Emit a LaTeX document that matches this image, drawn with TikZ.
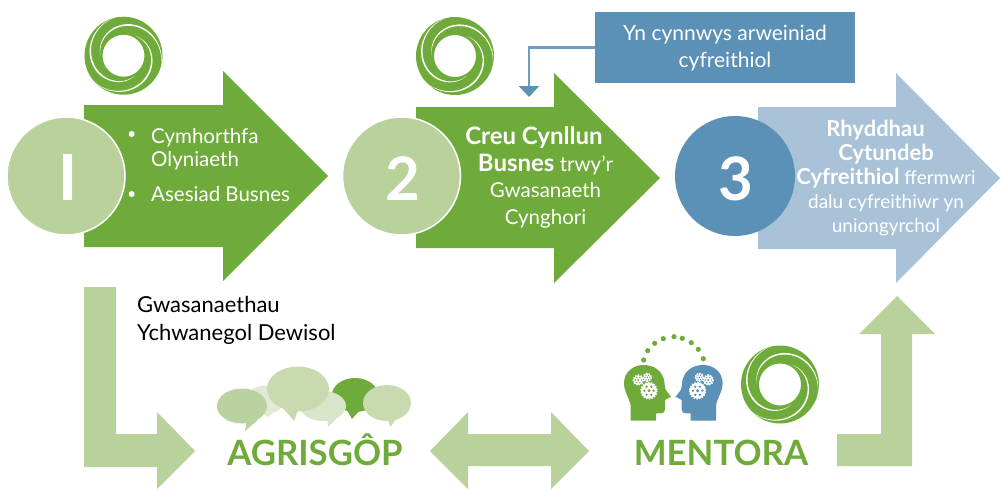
\documentclass[tikz,border=0pt]{standalone}
\usepackage{fontspec}
\setmainfont{Lato}
\newfontfamily\digitfont{Poppins}
\usetikzlibrary{arrows.meta}
\definecolor{dgreen}{HTML}{6FAB3A}
\definecolor{lgreen}{HTML}{B9D29C}
\definecolor{dblue}{HTML}{5B90B7}
\definecolor{lblue}{HTML}{A9C2D8}
\definecolor{linkblue}{HTML}{6C9DC2}
\definecolor{bubA}{HTML}{B9D29F}
\definecolor{bubB}{HTML}{E0EAD4}
\definecolor{bubC}{HTML}{C9DAB0}
\definecolor{bubD}{HTML}{D9E5C8}
\newcommand{\ringat}[2]{%
  \begin{scope}[shift={(#1,#2)}]
    \fill[dgreen,even odd rule] (0,0) circle (39pt) (0,0) circle (21pt);
    \foreach \a in {60,180,300}{
      \fill[white] plot[domain=0:200,samples=30] ({(23+16.5*(\x/200)+0.8*sin(\x*0.9))*cos(\x+\a)},{(23+16.5*(\x/200)+0.8*sin(\x*0.9))*sin(\x+\a)})
        -- plot[domain=200:0,samples=30] ({(23+16.5*(\x/200)-0.8*sin(\x*0.9))*cos(\x+\a)},{(23+16.5*(\x/200)-0.8*sin(\x*0.9))*sin(\x+\a)}) -- cycle;
    }
  \end{scope}}
\newcommand{\gearat}[4]{%
  \draw[white,line width=1.5pt,dash pattern=on 1.5pt off 1.3pt] (#1,#2) circle ({#3-0.5});
  \fill[white] (#1,#2) circle ({#3-0.7});
  \fill[#4] (#1,#2) circle ({#3*0.2});
  \foreach \g in {0,60,...,300}{\fill[#4] ({#1+#3*0.55*cos(\g)},{#2+#3*0.55*sin(\g)}) circle ({#3*0.15});}}
\newcommand{\headat}[2]{%
  \begin{scope}[shift={(673.3,0)},xscale=#1]
    \fill[#2] (-42.7,420.7) -- (-42.7,405) .. controls (-44,398) and (-49.3,392) .. (-49.3,383)
      .. controls (-49.3,372) and (-40,365) .. (-30,365)
      .. controls (-19,365) and (-11,371) .. (-9,381)
      .. controls (-8.5,386) and (-8.5,388) .. (-7.5,390) -- (-2.3,396.7) -- (-8.3,400) -- (-8.3,409)
      .. controls (-8.3,412) and (-10,413.3) .. (-12,413.3) -- (-17.3,413.3) -- (-17.3,420.7) -- cycle;
    \gearat{-24.3}{390.7}{8.5}{#2}
    \gearat{-35}{380}{5.5}{#2}
    \gearat{-26}{377.3}{4.5}{#2}
  \end{scope}}
\newcommand{\bd}[3]{{\fontsize{#1}{#2}\selectfont\bfseries #3}}
\tikzset{
  txt/.style={text=white,align=center,inner sep=0pt,font=\fontsize{20.5}{26.5}\selectfont},
  label/.style={inner sep=0pt,anchor=base west,font=\fontsize{20.5}{26}\selectfont},
  sidelabel/.style={inner sep=0pt,anchor=base west,font=\fontsize{22}{26}\selectfont},
  bignum/.style={text=white,inner sep=0pt,font=\bfseries\fontsize{60}{60}\selectfont},
  disc/.style={circle,draw=white,line width=1.5pt,inner sep=0pt,minimum size=118pt},
  brand/.style={text=dgreen,inner sep=0pt,anchor=base,font=\bfseries\fontsize{34.8}{37}\selectfont},
  bulletdot/.style={fill=white,circle,inner sep=0pt,minimum size=6pt},
}
\begin{document}
\begin{tikzpicture}[x=1pt,y=-1pt]
\useasboundingbox (0,0) rectangle (1000,490);
% block arrows
\fill[dgreen] (84,105) -- (223,105) -- (223,71) -- (328,176) -- (223,281) -- (223,247) -- (84,247) -- cycle;
\fill[dgreen] (416,107) -- (554,107) -- (554,73) -- (660,178) -- (554,283) -- (554,248) -- (416,248) -- cycle;
\fill[lblue] (758,107) -- (896,107) -- (896,73) -- (1000,178) -- (896,283) -- (896,249) -- (758,249) -- cycle;
\fill[lgreen] (84,287) -- (116,287) -- (116,434) -- (157,434) -- (157,412) -- (195,451) -- (157,489) -- (157,467) -- (84,467) -- cycle;
\fill[lgreen] (430,451) -- (468,412) -- (468,434) -- (551,434) -- (551,412) -- (589,451) -- (551,489) -- (551,466) -- (468,466) -- (468,489) -- cycle;
\fill[lgreen] (897,296) -- (935,334) -- (912,334) -- (912,466) -- (837,466) -- (837,434) -- (881,434) -- (881,334) -- (859,334) -- cycle;
% discs
\node[disc,fill=lgreen] (c1) at (66,176) {};
\node[disc,fill=lgreen] (c2) at (401.5,176) {};
\node[disc,fill=dblue,draw=none,minimum size=120pt] (c3) at (735,176) {};
\begin{scope}
  \clip (63,154) rectangle (72,200);
  \node[text=white,inner sep=0pt,anchor=base,font=\digitfont\bfseries\fontsize{66}{66}\selectfont] (n1) at (65,200) {1};
\end{scope}
\node[bignum,anchor=base] (n2) at (403,200) {2};
\node[bignum,anchor=base] (n3) at (736,200) {3};
% logos
\ringat{123.5}{55.7}
\ringat{455}{56}
\ringat{780}{384.5}
% arrow 1 text
\node[bulletdot] (b1) at (131.7,134) {};
\node[bulletdot] (b2) at (131.7,194) {};
\node[label,text=white] (t1a) at (151,143) {Cymhorthfa};
\node[label,text=white] (t1b) at (151,166) {Olyniaeth};
\node[label,text=white] (t1c) at (151,201) {Asesiad Busnes};
% arrow 2 text
\node[txt,anchor=base] (t2) at (545.5,224) {\bd{24}{26.5}{Creu Cynllun}\hspace*{23pt}\\\bd{24}{26.5}{Busnes} trwy’r\\Gwasanaeth\\Cynghori};
% arrow 3 text
\node[txt,anchor=base,font=\fontsize{19}{24}\selectfont] (t3) at (886,232) {\bd{22}{24}{Rhyddhau}\hspace*{21pt}\\\bd{22}{24}{Cytundeb}\\\bd{22}{24}{Cyfreithiol} ffermwri\\dalu cyfreithiwr yn\\uniongyrchol};
% blue box
\node[fill=dblue,minimum width=260pt,minimum height=71pt,inner sep=0pt] (box) at (725,47.5) {};
\node[txt,anchor=base,font=\fontsize{21}{27}\selectfont] (boxt) at (725,67) {Yn cynnwys arweiniad\\cyfreithiol};
\coordinate (tip) at (529,97);
\draw[linkblue,line width=2.5pt,-{Triangle[length=11pt,width=20pt,color=dblue]}] (box.west) -| (tip);
% side text
\node[sidelabel] (g1) at (137,312) {Gwasanaethau};
\node[sidelabel] (g2) at (137,340) {Ychwanegol Dewisol};
% bubbles
\fill[dgreen] (355,395) ellipse (23pt and 17pt);
\fill[dgreen] (347,410) -- (360,410) -- (352,419) -- cycle;
\fill[bubD] (323,406) ellipse (23pt and 15pt);
\fill[bubD] (327,418) -- (337,418) -- (328,427) -- cycle;
\fill[bubB] (265,400) ellipse (19pt and 14.5pt);
\fill[bubB] (262,412) -- (276,410) -- (268,417) -- cycle;
\fill[bubC] (298,389) ellipse (31pt and 22.5pt);
\fill[bubC] (282,407) -- (298,410) -- (294,421) -- cycle;
\fill[bubA] (242,406) ellipse (25pt and 17.5pt);
\fill[bubA] (247,420) -- (258,420) -- (245,431) -- cycle;
\fill[bubC] (387,403) ellipse (24pt and 18pt);
\fill[bubC] (388,418) -- (398,417) -- (390,427) -- cycle;
\node[brand] (agri) at (315,465) {AGRISGÔP};
% heads
\headat{1}{dgreen}
\headat{-1}{dblue}
\foreach \dx/\dy in {643.7/360,647.7/350.7,654.7/343.3,663.3/338.7,674/336.7,682.3/338.3,691.3/342.7,698.3/349.3,703.3/358.7}{
  \fill[dgreen] (\dx,\dy) circle (2.6pt);
}
\node[brand] (ment) at (721,465) {MENTORA};
\end{tikzpicture}
\end{document}
